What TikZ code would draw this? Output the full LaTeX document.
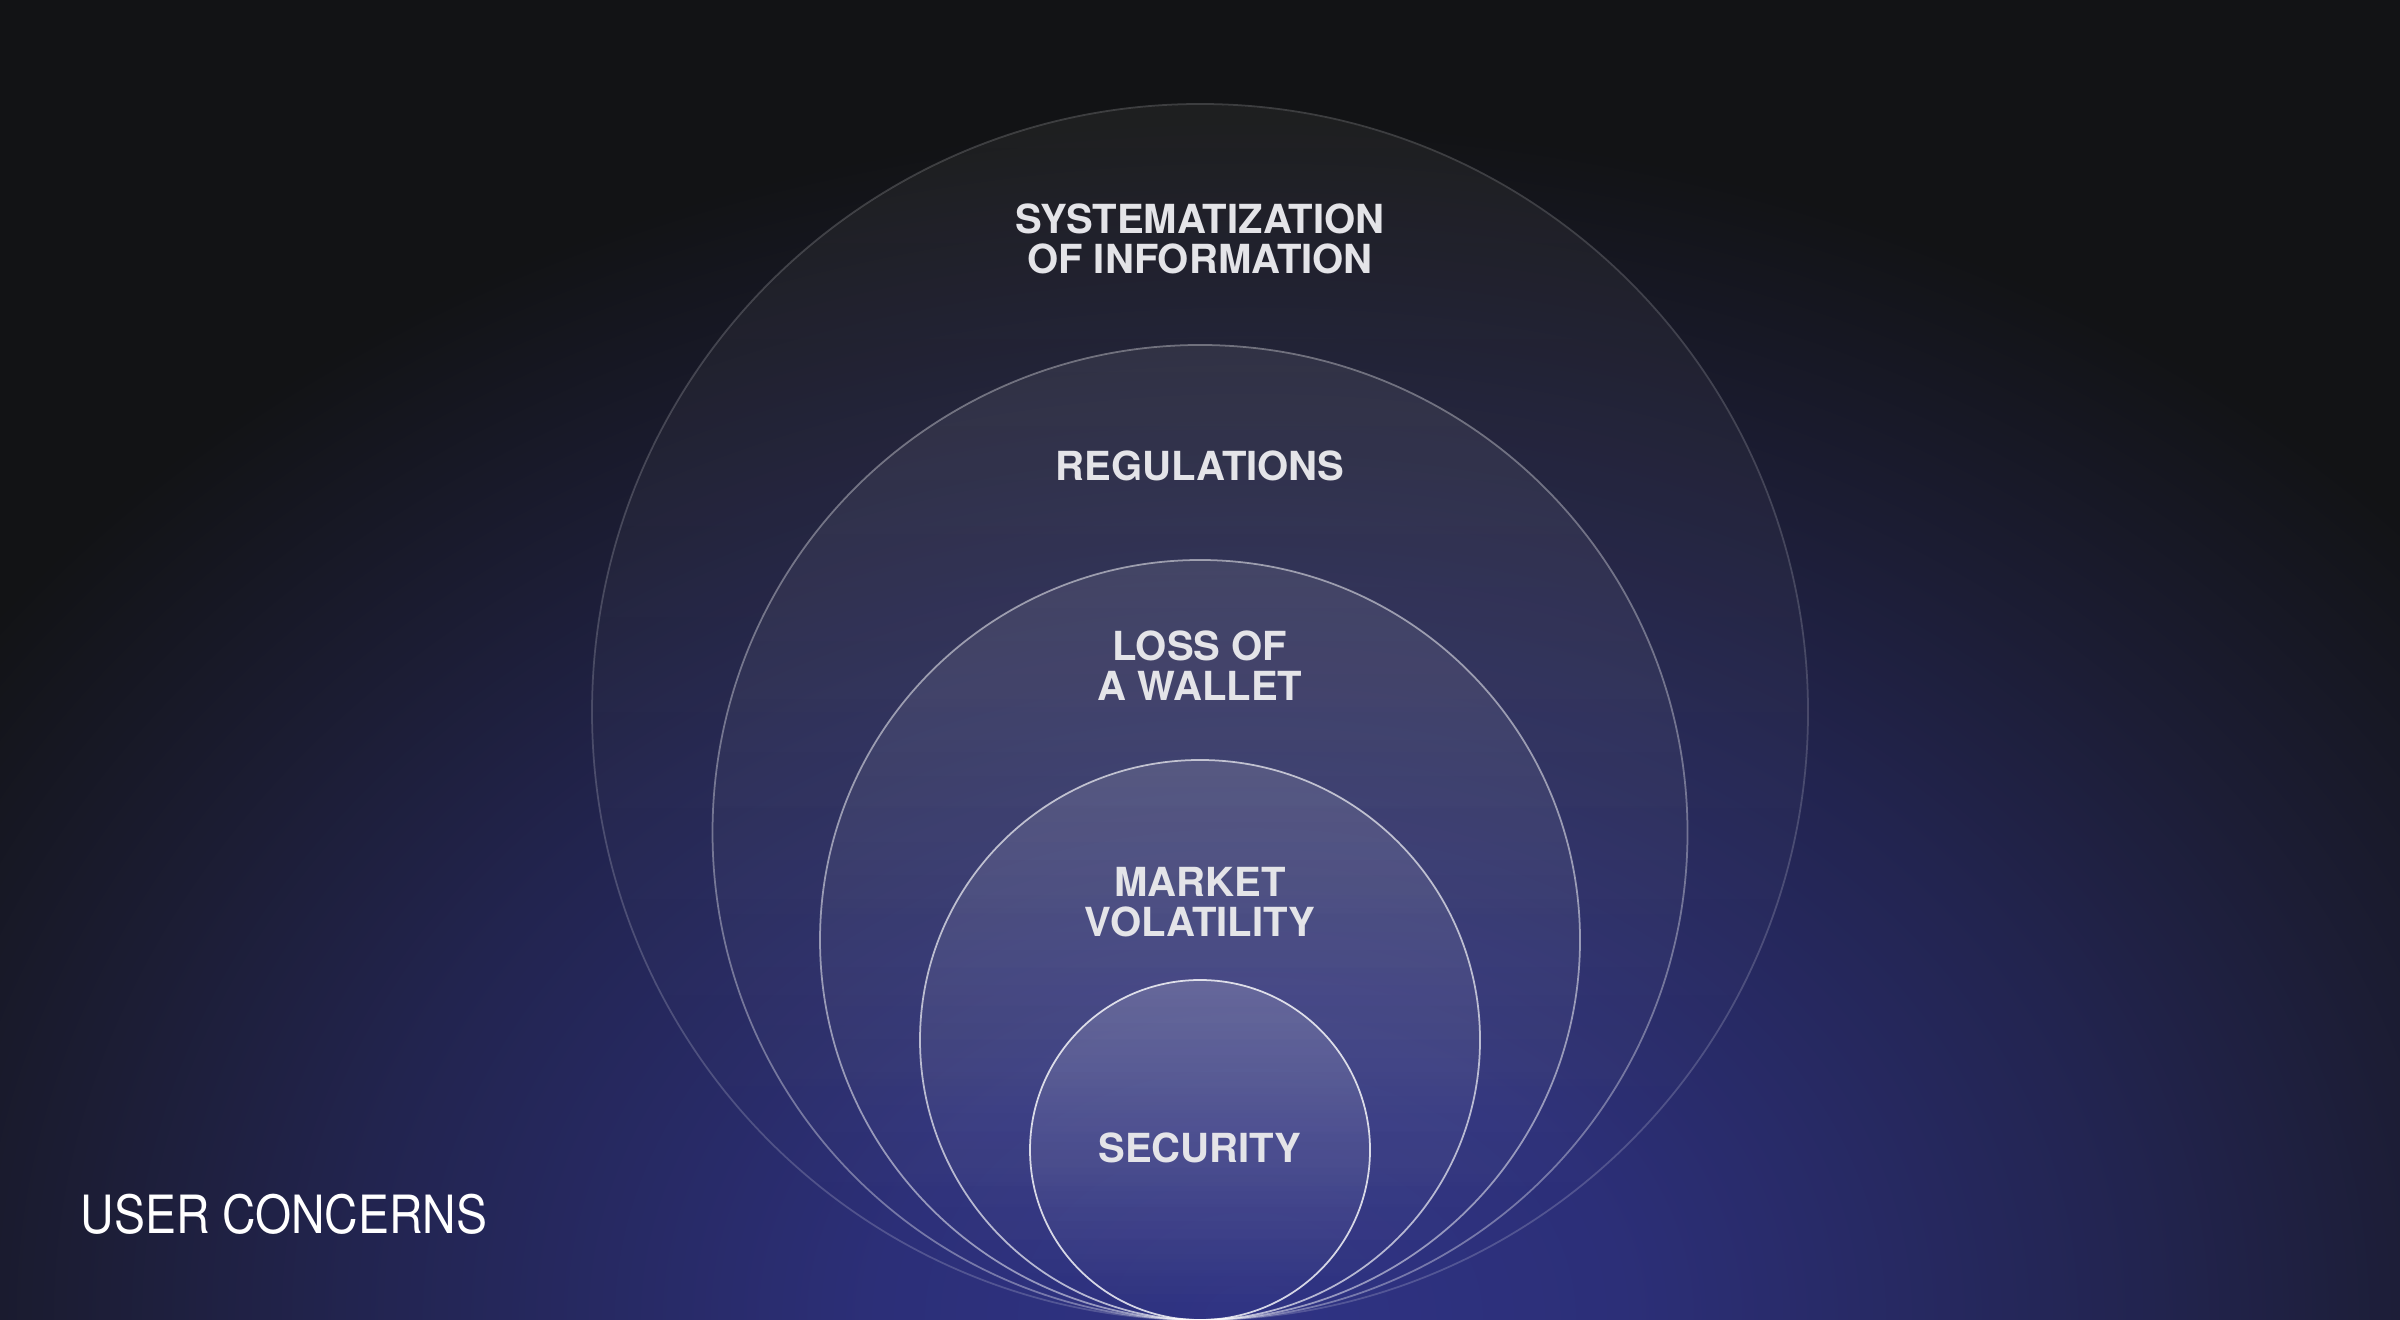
\documentclass[tikz,border=0pt]{standalone}
\usepackage{fontspec}
\setmainfont{TeX Gyre Heros}
\usepackage{graphicx}
\usetikzlibrary{positioning,fadings}

\definecolor{bgdark}{HTML}{121315}
\definecolor{glowcore}{HTML}{2F3384}
\definecolor{glowmid}{HTML}{2C2F78}
\definecolor{glowouter}{HTML}{22244F}
\definecolor{glowedge}{HTML}{1C1D35}
\definecolor{labelgray}{HTML}{E4E4E8}

% blue glow rising from the bottom centre
\pgfdeclareradialshading{bgglow}{\pgfpointorigin}{color(0bp)=(glowcore); color(6bp)=(glowmid); color(14.5bp)=(glowouter); color(19bp)=(glowedge); color(25bp)=(bgdark); color(50bp)=(bgdark)}
\tikzfading[name=ringfade, top color=transparent!0, bottom color=transparent!100]

\begin{document}
\begin{tikzpicture}[
    ring/.style={circle, inner sep=0pt, draw=white, line width=0.5pt},
    ringfill/.style={preaction={fill=white, fill opacity=#1, path fading=ringfade}},
    ringtext/.style={text=labelgray, align=center, inner sep=0pt, font=\bfseries\fontsize{11.4}{11.4}\selectfont}
]
    \useasboundingbox (0,0) rectangle (24,13.2);
    % Define centre of the circles (all touch the bottom edge)
    \def\cx{12}

    % Background
    \fill[bgdark] (0,0) rectangle (24,13.2);
    \begin{scope}
        \clip (0,0) rectangle (24,13.2);
        \shade[shading=bgglow] (12.5,0) ellipse (15.5 and 12);
    \end{scope}

    % Nested circles, outer to inner
    \node[ring, ringfill=0.05, draw opacity=0.18, minimum size=12.16cm] (info) at (\cx,6.08) {};
    \node[ring, ringfill=0.07, draw opacity=0.35, minimum size=9.75cm] (regs) at (\cx,4.875) {};
    \node[ring, ringfill=0.09, draw opacity=0.5, minimum size=7.6cm] (wallet) at (\cx,3.8) {};
    \node[ring, ringfill=0.12, draw opacity=0.65, minimum size=5.6cm] (market) at (\cx,2.8) {};
    \node[ring, ringfill=0.17, draw opacity=0.8, minimum size=3.4cm] (security) at (\cx,1.7) {};

    % Labels
    \node[ringtext] (infotext) at (\cx,10.81) {SYSTEMATIZATION\\OF INFORMATION};
    \node[ringtext] (regstext) at (\cx,8.54) {REGULATIONS};
    \node[ringtext] (wallettext) at (\cx,6.54) {LOSS OF\\A WALLET};
    \node[ringtext] (markettext) at (\cx,4.175) {MARKET\\VOLATILITY};
    \node[ringtext] (securitytext) at (\cx,1.72) {SECURITY};

    \node[anchor=base west, inner sep=0pt, text=white, font=\fontsize{15}{18}\selectfont] (title) at (0.8,0.86) {\scalebox{0.88}[1]{USER CONCERNS}};
\end{tikzpicture}
\end{document}
